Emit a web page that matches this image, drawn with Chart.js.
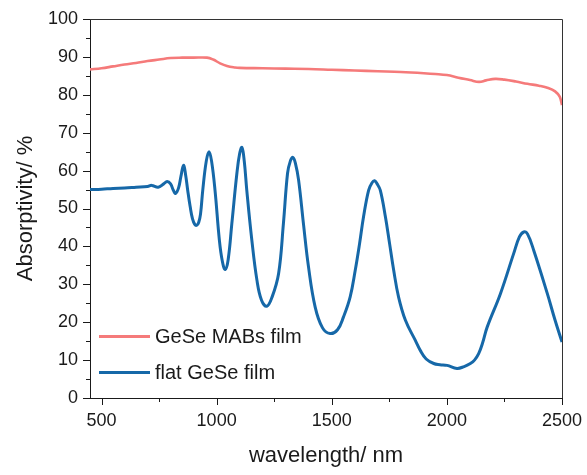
<!DOCTYPE html>
<html>
<head>
<meta charset="utf-8">
<script src="https://cdn.jsdelivr.net/npm/chart.js@4.4.1/dist/chart.umd.min.js"></script>
<style>
  html, body { margin: 0; padding: 0; background: #fff; }
  #wrap { width: 587px; height: 475px; }
</style>
</head>
<body>
<div id="wrap"><canvas id="c" width="587" height="475"></canvas></div>
<script>
// Absorptivity spectra (wavelength in nm, absorptivity in %)
const mabsWavelength = [450, 500, 550, 600, 650, 700, 750, 800, 850, 900, 958, 985, 1015, 1045, 1080, 1100, 1200, 1300, 1400, 1500, 1600, 1700, 1800, 1900, 1950, 2000, 2050, 2100, 2140, 2170, 2210, 2250, 2300, 2350, 2400, 2440, 2470, 2490, 2500];
const mabsAbsorb     = [86.7, 87.0, 87.5, 88.0, 88.4, 88.9, 89.3, 89.7, 89.8, 89.8, 89.8, 89.3, 88.3, 87.6, 87.2, 87.1, 87.0, 86.9, 86.8, 86.6, 86.4, 86.2, 86.0, 85.7, 85.5, 85.2, 84.5, 83.9, 83.4, 83.8, 84.2, 84.0, 83.5, 82.9, 82.4, 81.8, 80.9, 79.5, 77.3];

const flatWavelength = [450, 500, 550, 600, 650, 700, 718, 746, 770, 785, 800, 812, 822, 835, 845, 856, 865, 875, 885, 895, 905, 914, 922, 930, 940, 955, 967, 978, 993, 1012, 1025, 1037, 1050, 1066, 1088, 1100, 1110, 1120, 1131, 1153, 1175, 1195, 1218, 1240, 1269, 1290, 1308, 1320, 1331, 1342, 1356, 1377, 1399, 1428, 1460, 1493, 1525, 1551, 1580, 1602, 1621, 1638, 1660, 1675, 1686, 1697, 1711, 1733, 1751, 1769, 1790, 1820, 1863, 1885, 1910, 1943, 1970, 2001, 2044, 2075, 2102, 2120, 2138, 2155, 2175, 2233, 2290, 2315, 2334, 2350, 2377, 2436, 2470, 2493, 2500];
const flatAbsorb     = [55.0, 55.1, 55.3, 55.4, 55.6, 55.8, 56.1, 55.6, 56.5, 57.1, 56.5, 54.8, 54.0, 55.5, 58.5, 61.4, 59.0, 54.5, 50.5, 47.3, 45.8, 45.6, 46.3, 48.5, 55.0, 62.5, 65.0, 62.5, 54.8, 41.6, 36.0, 33.9, 36.5, 46.0, 59.3, 64.5, 66.1, 62.5, 54.8, 41.6, 31.1, 25.8, 24.2, 26.5, 32.8, 46.0, 59.3, 62.5, 63.5, 62.0, 57.5, 46.0, 34.6, 24.0, 18.5, 17.0, 18.0, 21.4, 26.7, 33.7, 40.8, 47.8, 54.8, 56.8, 57.3, 56.5, 54.8, 47.8, 40.8, 33.7, 26.7, 20.5, 15.2, 12.5, 10.3, 9.1, 8.8, 8.6, 7.8, 8.3, 9.1, 10.0, 11.7, 14.5, 18.7, 27.6, 38.1, 42.5, 43.8, 43.3, 39.0, 27.6, 20.5, 16.1, 14.8];

const seriesNames = ['GeSe MABs film', 'flat GeSe film'];

// Axis tick labels
const xTickValues = [500, 1000, 1500, 2000, 2500];
const yTickValues = [0, 10, 20, 30, 40, 50, 60, 70, 80, 90, 100];
// Minor ticks sit half way between labelled ones
const xMinorValues = [750, 1250, 1750, 2250];
const yMinorValues = [5, 15, 25, 35, 45, 55, 65, 75, 85, 95];

const FONT = "'Liberation Sans', Arial, Helvetica, sans-serif";
const INK = '#1a1a1a';
const RED = '#f57a7a';
const BLUE = '#1668a8';

const toPoints = (xs, ys) => xs.map((x, i) => ({ x: x, y: ys[i] }));

// Tick marks (long major, short minor) and the top/right frame lines
const frameAndTicks = {
  id: 'frameAndTicks',
  afterDraw(chart) {
    const { ctx, chartArea: a, scales: { x, y } } = chart;
    ctx.save();
    ctx.strokeStyle = '#333';
    ctx.lineWidth = 1;
    ctx.beginPath();
    ctx.moveTo(a.left, a.top + 0.5);
    ctx.lineTo(a.right + 0.5, a.top + 0.5);
    ctx.lineTo(a.right + 0.5, a.bottom);
    ctx.stroke();
    ctx.strokeStyle = INK;
    ctx.beginPath();
    const xt = (v, len) => {
      const px = Math.round(x.getPixelForValue(v)) + 0.5;
      ctx.moveTo(px, a.bottom);
      ctx.lineTo(px, a.bottom + len);
    };
    const yt = (v, len) => {
      const py = Math.round(y.getPixelForValue(v)) + 0.5;
      ctx.moveTo(a.left, py);
      ctx.lineTo(a.left - len, py);
    };
    xTickValues.forEach(v => xt(v, 7));
    xMinorValues.forEach(v => xt(v, 4));
    yTickValues.forEach(v => yt(v, 7));
    yMinorValues.forEach(v => yt(v, 4));
    ctx.stroke();
    ctx.restore();
  }
};

// Legend drawn inside the plot, lower left
const innerLegend = {
  id: 'innerLegend',
  afterDraw(chart) {
    const { ctx } = chart;
    ctx.save();
    ctx.font = '20px ' + FONT;
    ctx.textBaseline = 'middle';
    ctx.textAlign = 'left';
    chart.data.datasets.forEach((ds, i) => {
      const yy = [336.5, 372.5][i];
      ctx.strokeStyle = ds.borderColor;
      ctx.lineWidth = 3;
      ctx.beginPath();
      ctx.moveTo(99, yy);
      ctx.lineTo(150, yy);
      ctx.stroke();
      ctx.fillStyle = INK;
      ctx.fillText(ds.label, 155, yy + 1);
    });
    ctx.restore();
  }
};

new Chart(document.getElementById('c'), {
  type: 'line',
  data: {
    datasets: [
      {
        label: seriesNames[0],
        data: toPoints(mabsWavelength, mabsAbsorb),
        borderColor: RED,
        borderWidth: 2.6,
        pointRadius: 0,
        tension: 0.4,
        fill: false
      },
      {
        label: seriesNames[1],
        data: toPoints(flatWavelength, flatAbsorb),
        borderColor: BLUE,
        borderWidth: 3,
        pointRadius: 0,
        tension: 0.4,
        fill: false
      }
    ]
  },
  options: {
    responsive: false,
    animation: false,
    devicePixelRatio: 1,
    layout: { padding: { top: 19, right: 25, left: 0, bottom: 0 } },
    plugins: {
      legend: { display: false },
      tooltip: { enabled: false }
    },
    scales: {
      x: {
        type: 'linear',
        min: 450,
        max: 2500,
        afterBuildTicks: s => { s.ticks = xTickValues.map(v => ({ value: v })); },
        afterFit: s => { s.height = 77; s.paddingLeft = 0; s.paddingRight = 0; },
        grid: { display: true, drawOnChartArea: false, drawTicks: false },
        border: { display: true, color: INK, width: 1 },
        ticks: {
          padding: 12,
          color: INK,
          font: { family: FONT, size: 18 },
          maxRotation: 0,
          autoSkip: false,
          callback: v => String(v)
        },
        title: {
          display: true,
          text: 'wavelength/ nm',
          color: INK,
          font: { family: FONT, size: 22 },
          padding: { top: 0, bottom: 6 }
        }
      },
      y: {
        min: 0,
        max: 100,
        afterBuildTicks: s => { s.ticks = yTickValues.map(v => ({ value: v })); },
        afterFit: s => { s.width = 90; s.paddingTop = 0; s.paddingBottom = 0; },
        grid: { display: true, drawOnChartArea: false, drawTicks: false },
        border: { display: true, color: INK, width: 1 },
        ticks: {
          padding: 12,
          color: INK,
          font: { family: FONT, size: 18 },
          autoSkip: false,
          callback: v => String(v)
        },
        title: {
          display: true,
          text: 'Absorptivity/ %',
          color: INK,
          font: { family: FONT, size: 22 },
          padding: { top: 13, bottom: 0 }
        }
      }
    }
  },
  plugins: [frameAndTicks, innerLegend]
});
</script>
</body>
</html>
